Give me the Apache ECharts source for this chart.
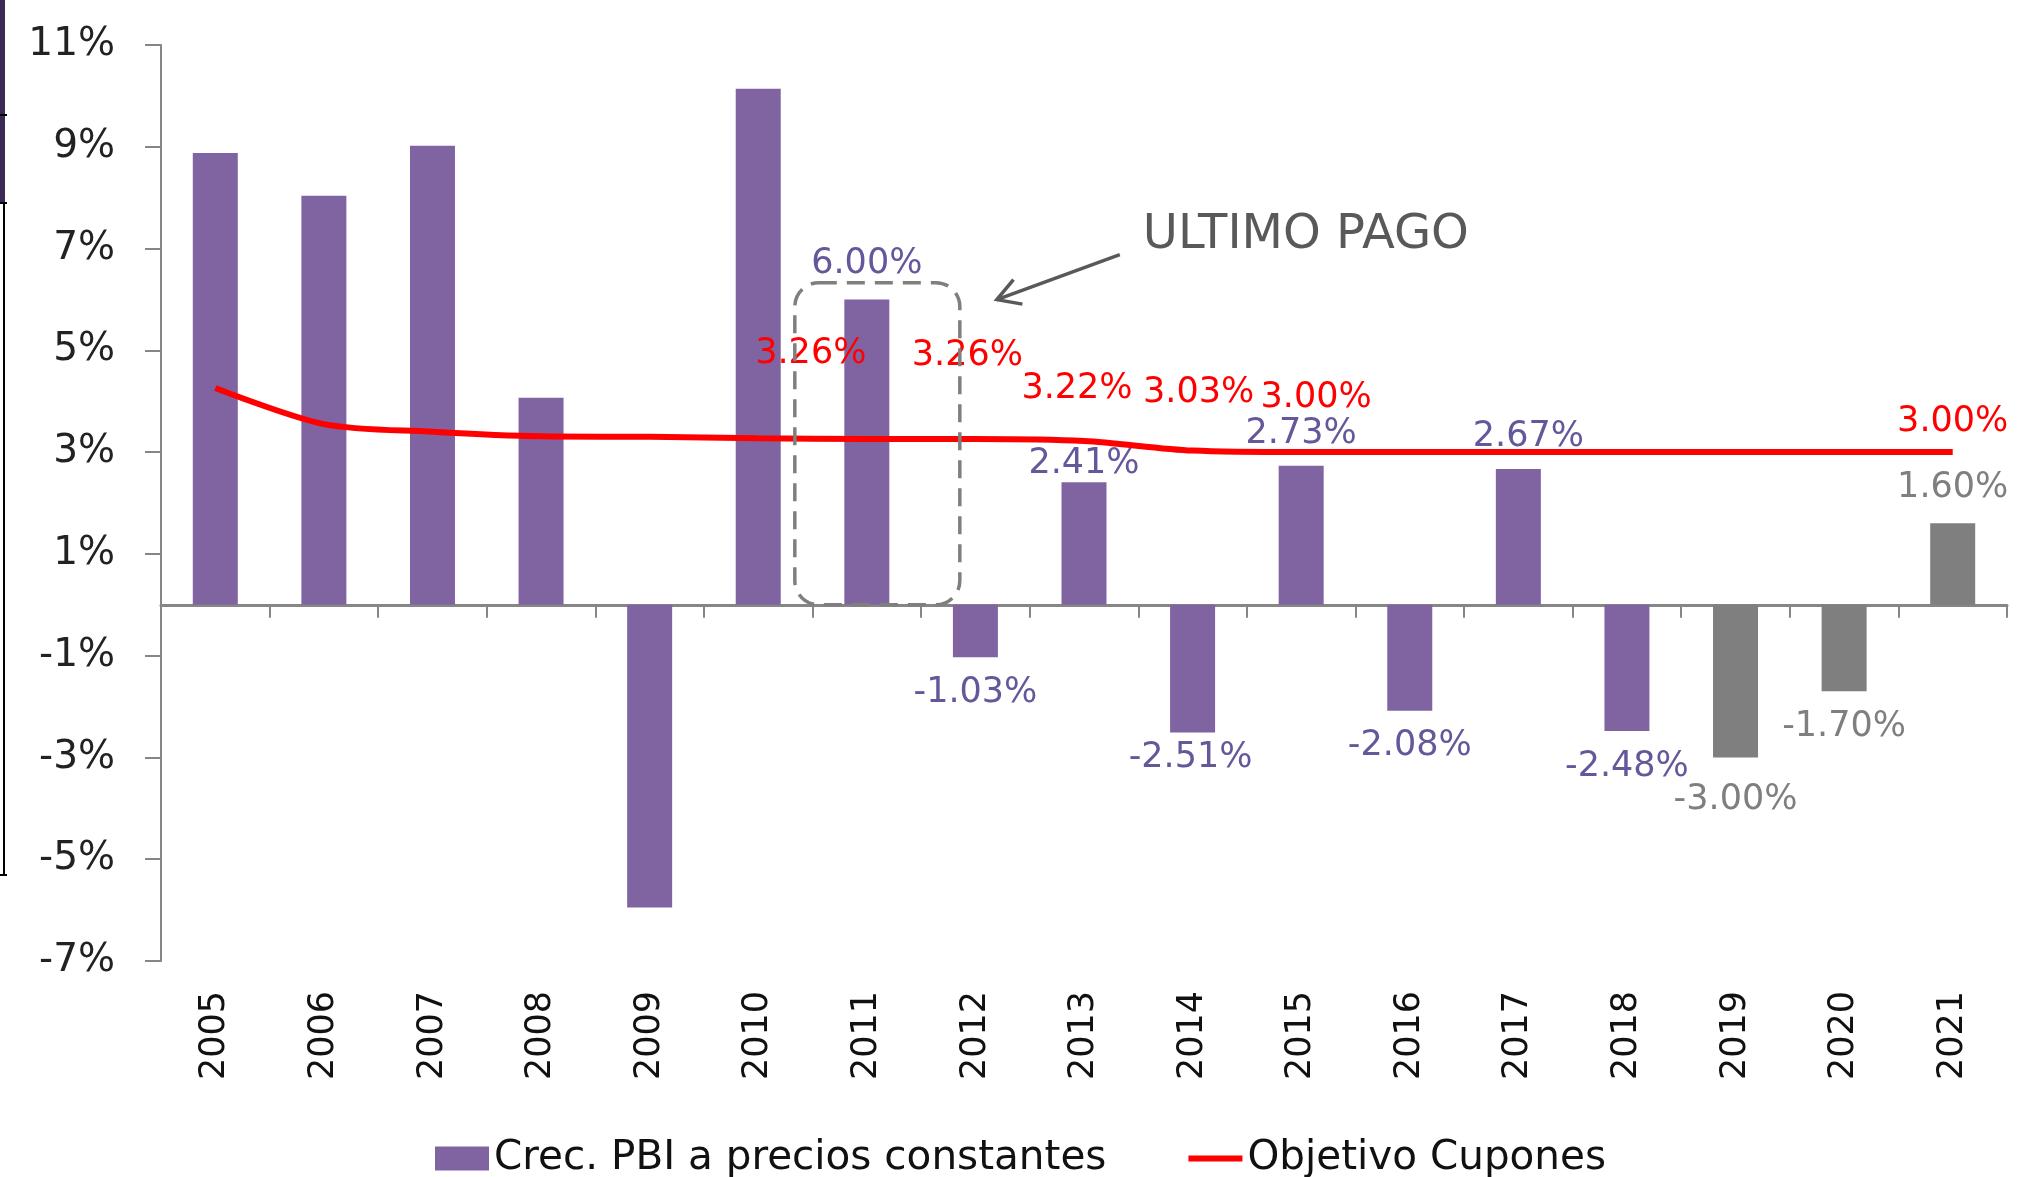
<!DOCTYPE html>
<html>
<head>
<meta charset="utf-8">
<title>Crec. PBI vs Objetivo Cupones</title>
<script src="https://cdn.jsdelivr.net/npm/echarts@6/dist/echarts.min.js"></script>
<style>
  html, body { margin: 0; padding: 0; background: #fff; }
  #chart { width: 2018px; height: 1177px; }
</style>
</head>
<body>
<div id="chart"></div>
<script>
// datos
const years = ['2005', '2006', '2007', '2008', '2009', '2010', '2011', '2012', '2013',
  '2014', '2015', '2016', '2017', '2018', '2019', '2020', '2021']
const pbiGrowth = [8.88, 8.04, 9.02, 4.07, -5.95, 10.14, 6.00, -1.03, 2.41,
  -2.51, 2.73, -2.08, 2.67, -2.48, -3.00, -1.70, 1.60]
const couponTarget = [4.26, 3.55, 3.40, 3.31, 3.30, 3.27, 3.26, 3.26, 3.22,
  3.03, 3.00, 3.00, 3.00, 3.00, 3.00, 3.00, 3.00]
const projectedYears = ['2019', '2020', '2021']
const barLabelYears = ['2011', '2012', '2013', '2014', '2015', '2016', '2017', '2018', '2019', '2020', '2021']
const lineLabelYears = ['2011', '2012', '2013', '2014', '2015', '2021']
const yTicks = [-7, -5, -3, -1, 1, 3, 5, 7, 9, 11]

const FONT = 'DejaVu Sans'
const PURPLE = '#8064A2'
const GRAY = '#7F7F7F'
const RED = '#FF0000'
const AXIS = '#868686'

// ajustes finos de las etiquetas
const barLabelShift = { '2013': [0, 17], '2014': [-2, -10], '2017': [10, 4], '2019': [0, 7], '2015': [0, 4] }
const lineLabelShift = {
  '2011': [-56, -62],
  '2012': [-8, -60],
  '2013': [-7, -30],
  '2014': [6, -35],
  '2015': [15, -32],
  '2021': [0, -8]
}

const fmt = v => v.toFixed(2) + '%'

const barData = pbiGrowth.map((v, i) => {
  const projected = projectedYears.includes(years[i])
  return {
    value: v,
    itemStyle: { color: projected ? GRAY : PURPLE },
    label: {
      show: barLabelYears.includes(years[i]),
      position: v < 0 ? 'bottom' : 'top',
      distance: 18,
      offset: barLabelShift[years[i]] || [0, 0],
      color: projected ? GRAY : '#65579A'
    }
  }
})

const lineData = couponTarget.map((v, i) => ({
  value: v,
  label: {
    show: lineLabelYears.includes(years[i]),
    position: 'top',
    distance: 5,
    offset: lineLabelShift[years[i]] || [0, 0]
  }
}))

const chart = echarts.init(document.getElementById('chart'))

const option = {
  animation: false,
  textStyle: { fontFamily: FONT },
  grid: { left: 161, right: 11, top: 45, bottom: 216 },
  legend: {
    left: 435,
    top: 1138,
    padding: 0,
    itemWidth: 54,
    itemHeight: 24,
    itemGap: 82,
    textStyle: { fontFamily: FONT, fontSize: 40.5, color: '#111' },
    data: [
      { name: 'Crec. PBI a precios constantes', icon: 'rect', itemStyle: { color: PURPLE } },
      { name: 'Objetivo Cupones', icon: 'path://M0,0H9V1H0Z', itemStyle: { color: RED } }
    ]
  },
  xAxis: [
    {
      type: 'category',
      data: years,
      position: 'bottom',
      axisLine: { show: false, onZero: false },
      axisTick: { show: false },
      axisLabel: {
        rotate: 90,
        margin: 30,
        interval: 0,
        fontFamily: FONT,
        fontSize: 35,
        color: '#111'
      }
    },
    {
      type: 'category',
      data: years,
      position: 'top',
      axisLine: { show: true, onZero: true, lineStyle: { color: AXIS, width: 3 } },
      axisTick: { show: true, inside: true, length: 13, lineStyle: { color: AXIS, width: 2 } },
      axisLabel: { show: false }
    }
  ],
  yAxis: {
    type: 'value',
    min: yTicks[0],
    max: yTicks[yTicks.length - 1],
    interval: yTicks[1] - yTicks[0],
    splitLine: { show: false },
    axisLine: { show: true, lineStyle: { color: AXIS, width: 2 } },
    axisTick: { show: true, length: 16, lineStyle: { color: AXIS, width: 2 } },
    axisLabel: {
      margin: 46,
      fontFamily: FONT,
      fontSize: 39,
      color: '#222',
      formatter: '{value}%'
    }
  },
  series: [
    {
      name: 'Crec. PBI a precios constantes',
      type: 'bar',
      xAxisIndex: 0,
      barWidth: 45,
      data: barData,
      label: { fontFamily: FONT, fontSize: 35, formatter: p => fmt(p.value) },
      z: 2
    },
    {
      name: 'Objetivo Cupones',
      type: 'line',
      xAxisIndex: 0,
      data: lineData,
      smooth: 0.3,
      symbol: 'circle',
      symbolSize: 0,
      showSymbol: true,
      itemStyle: { color: RED },
      lineStyle: { color: RED, width: 6 },
      label: { fontFamily: FONT, fontSize: 35, color: RED, formatter: p => fmt(p.value) },
      z: 4
    }
  ]
}

chart.setOption(option)

// anotación "ULTIMO PAGO" anclada a la barra de 2011
const base = chart.convertToPixel({ xAxisIndex: 0, yAxisIndex: 0 }, ['2011', 0])
const topPt = chart.convertToPixel({ xAxisIndex: 0, yAxisIndex: 0 }, ['2011', 6.33])
const rx = base[0] - 72
const rw = 165
const rRight = rx + rw
const tip = [rRight + 37, topPt[1] + 17]
const tail = [rRight + 160, topPt[1] - 28]
const dx = tail[0] - tip[0]
const dy = tail[1] - tip[1]
const len = Math.sqrt(dx * dx + dy * dy)
const ux = dx / len
const uy = dy / len
const head = a => [
  tip[0] + 26 * (ux * Math.cos(a) - uy * Math.sin(a)),
  tip[1] + 26 * (ux * Math.sin(a) + uy * Math.cos(a))
]
const h1 = head(Math.PI / 6)
const h2 = head(-Math.PI / 6)

chart.setOption({
  graphic: [
    {
      type: 'rect',
      shape: { x: rx, y: topPt[1], width: rw, height: base[1] - topPt[1], r: 24 },
      style: { fill: 'none', stroke: GRAY, lineWidth: 3.5, lineDash: [18, 10] },
      z: 5
    },
    {
      type: 'line',
      shape: { x1: tail[0], y1: tail[1], x2: tip[0], y2: tip[1] },
      style: { stroke: '#595959', lineWidth: 3.5 }
    },
    {
      type: 'polyline',
      shape: { points: [h1, tip, h2] },
      style: { fill: 'none', stroke: '#595959', lineWidth: 3.5 }
    },
    {
      type: 'text',
      x: rRight + 183,
      y: topPt[1] - 47,
      style: {
        text: 'ULTIMO PAGO',
        fill: '#595959',
        font: '48px "DejaVu Sans"',
        verticalAlign: 'middle',
        align: 'left'
      }
    },
    // borde recortado a la izquierda de la imagen original
    { type: 'rect', shape: { x: 0, y: 0, width: 5, height: 203 }, style: { fill: '#3B2A55' } },
    { type: 'line', shape: { x1: 4, y1: 203, x2: 4, y2: 875 }, style: { stroke: '#000', lineWidth: 2 } },
    { type: 'line', shape: { x1: 0, y1: 115, x2: 7, y2: 115 }, style: { stroke: '#000', lineWidth: 2 } },
    { type: 'line', shape: { x1: 0, y1: 203, x2: 7, y2: 203 }, style: { stroke: '#000', lineWidth: 2 } },
    { type: 'line', shape: { x1: 0, y1: 875, x2: 7, y2: 875 }, style: { stroke: '#000', lineWidth: 2 } }
  ]
})
</script>
</body>
</html>
